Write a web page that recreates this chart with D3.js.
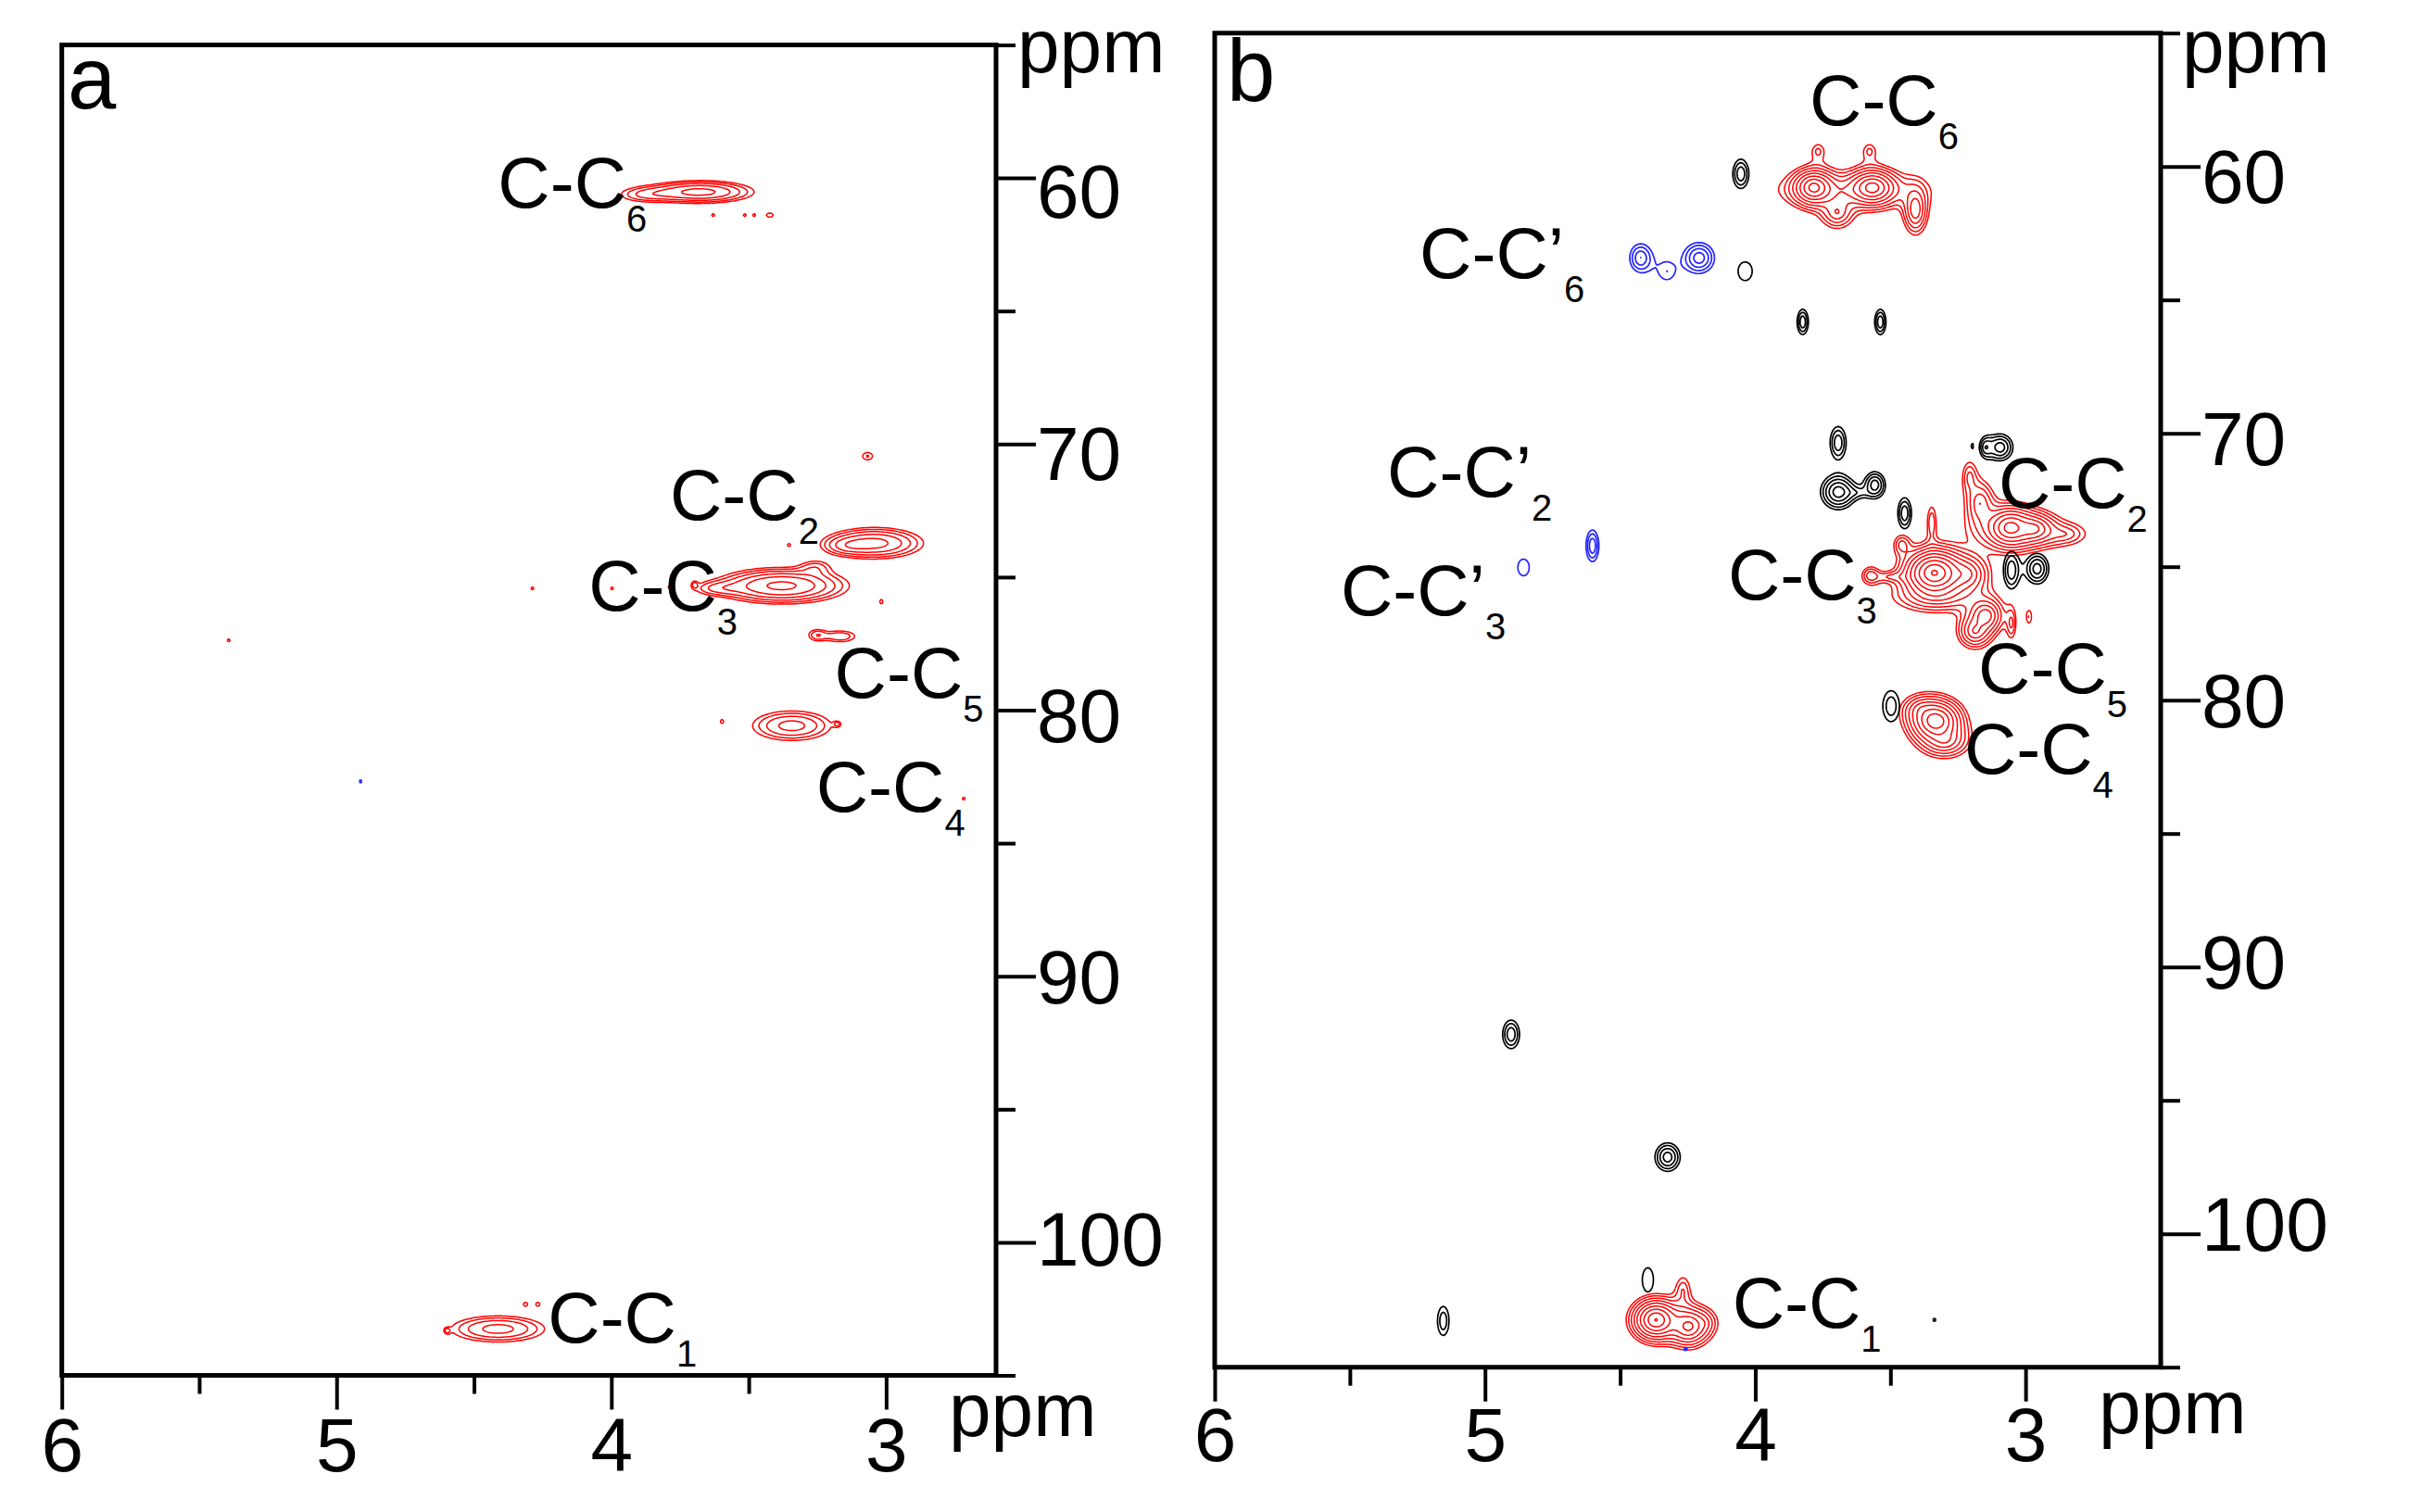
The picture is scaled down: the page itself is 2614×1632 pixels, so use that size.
<!DOCTYPE html>
<html><head><meta charset="utf-8">
<script src="https://cdn.jsdelivr.net/npm/d3@7"></script>
<style>
body{margin:0;background:#fff}
text{font-family:"Liberation Sans",Arial,sans-serif;fill:#000}
</style>
</head><body>
<script>
// ---------- data ----------
const xTicksMajor = [6, 5, 4, 3];
const xTicksMinor = [5.5, 4.5, 3.5];
const yTicksMajor = [60, 70, 80, 90, 100];
const yTicksMinor = [55, 65, 75, 85, 95, 105];
const contourLevels = [1, 1.45, 2.1, 3.05, 4.4, 6.4, 9.3, 13.5, 19.6, 28.4, 41.2];
const panelLetters = ["a", "b"];

// peaks: [1H ppm, 13C ppm, amplitude, width 1H (ppm), width 13C (ppm), class]
const peaksA = [
  [3.68, 60.50, 5.0, 0.110, 0.24, "red"],
  [3.88, 60.60, 1.8, 0.070, 0.20, "red"],
  [3.632, 61.37, 1.25, 0.008, 0.08, "red"],
  [3.517, 61.37, 1.25, 0.008, 0.08, "red"],
  [3.483, 61.37, 1.25, 0.008, 0.08, "red"],
  [3.426, 61.37, 1.40, 0.015, 0.09, "red"],
  [3.07, 70.43, 1.5, 0.020, 0.15, "red"],
  [3.046, 73.70, 5.0, 0.100, 0.33, "red"],
  [3.15, 73.80, 1.6, 0.050, 0.20, "red"],
  [3.356, 73.77, 1.25, 0.008, 0.08, "red"],
  [3.383, 75.30, 7.0, 0.125, 0.35, "red"],
  [3.62, 75.40, 1.6, 0.060, 0.18, "red"],
  [3.26, 74.60, 1.5, 0.040, 0.20, "red"],
  [4.29, 75.40, 1.25, 0.008, 0.08, "red"],
  [4.00, 75.40, 1.25, 0.008, 0.08, "red"],
  [3.79, 75.35, 1.25, 0.008, 0.08, "red"],
  [3.70, 75.25, 1.25, 0.008, 0.10, "red"],
  [3.02, 75.90, 1.25, 0.008, 0.12, "red"],
  [3.255, 77.15, 1.8, 0.025, 0.17, "red"],
  [3.17, 77.20, 2.0, 0.045, 0.17, "red"],
  [5.395, 77.35, 1.25, 0.008, 0.08, "red"],
  [3.346, 80.56, 3.5, 0.090, 0.35, "red"],
  [3.60, 80.40, 1.25, 0.008, 0.10, "red"],
  [3.18, 80.50, 1.25, 0.010, 0.08, "red"],
  [2.72, 83.30, 1.25, 0.008, 0.08, "red"],
  [4.415, 103.23, 3.5, 0.107, 0.31, "red"],
  [4.60, 103.30, 1.25, 0.008, 0.08, "red"],
  [4.315, 102.30, 1.3, 0.010, 0.10, "red"],
  [4.27, 102.30, 1.3, 0.010, 0.10, "red"],
  [4.915, 82.65, 1.3, 0.005, 0.10, "blue"]
];

const peaksB = [
  // red, C6 group
  [3.645, 60.85, 3.0, 0.165, 0.40, "red"],
  [3.786, 60.76, 15, 0.040, 0.35, "red"],
  [3.569, 60.76, 15, 0.045, 0.35, "red"],
  [3.41, 61.60, 6, 0.025, 0.50, "red"],
  [3.70, 61.70, 4, 0.035, 0.35, "red"],
  [3.77, 59.40, 1.6, 0.020, 0.25, "red"],
  [3.58, 59.40, 1.6, 0.020, 0.25, "red"],
  // red, C2 group
  [3.05, 73.60, 2.5, 0.100, 0.45, "red"],
  [3.06, 73.50, 14, 0.045, 0.40, "red"],
  [2.97, 73.55, 8, 0.040, 0.30, "red"],
  [2.86, 73.75, 2.5, 0.050, 0.25, "red"],
  [3.17, 72.60, 4, 0.030, 0.50, "red"],
  [3.21, 71.60, 2.2, 0.018, 0.40, "red"],
  // red, C3 group
  [3.34, 75.20, 30, 0.055, 0.45, "red"],
  [3.22, 75.25, 6, 0.045, 0.40, "red"],
  [3.576, 75.30, 2.5, 0.020, 0.22, "red"],
  [3.46, 74.15, 2.5, 0.020, 0.25, "red"],
  [3.35, 73.30, 2.0, 0.012, 0.45, "red"],
  [3.33, 76.10, 3.0, 0.100, 0.35, "red"],
  [3.50, 75.35, 1.8, 0.040, 0.12, "red"],
  // red, C5 group
  [3.19, 77.40, 6, 0.035, 0.35, "red"],
  [3.15, 76.80, 8, 0.035, 0.35, "red"],
  [3.055, 77.10, 2.2, 0.012, 0.40, "red"],
  [2.99, 76.85, 1.5, 0.010, 0.25, "red"],
  // red, C4 group
  [3.335, 80.75, 18, 0.050, 0.42, "red"],
  [3.30, 81.50, 5, 0.050, 0.35, "red"],
  [3.39, 80.30, 3, 0.040, 0.30, "red"],
  // red, C1 group
  [4.37, 103.20, 20, 0.045, 0.40, "red"],
  [4.25, 103.45, 10, 0.040, 0.40, "red"],
  [4.27, 102.10, 2, 0.020, 0.40, "red"],
  [4.19, 103.30, 2, 0.030, 0.30, "red"],
  // black
  [4.056, 60.25, 3, 0.020, 0.37, "black"],
  [4.04, 63.90, 1.3, 0.036, 0.48, "black"],
  [3.827, 65.80, 3, 0.014, 0.32, "black"],
  [3.54, 65.80, 3, 0.014, 0.32, "black"],
  [3.696, 70.33, 3, 0.020, 0.41, "black"],
  [3.696, 72.17, 5.5, 0.035, 0.36, "black"],
  [3.56, 71.90, 4, 0.023, 0.29, "black"],
  [3.63, 72.20, 1.2, 0.030, 0.12, "black"],
  [3.45, 72.97, 3, 0.017, 0.39, "black"],
  [3.096, 70.50, 4, 0.028, 0.30, "black"],
  [3.15, 70.50, 2.5, 0.015, 0.25, "black"],
  [3.20, 70.45, 1.2, 0.004, 0.15, "black"],
  [3.055, 75.10, 3, 0.020, 0.47, "black"],
  [2.96, 75.05, 4, 0.026, 0.345, "black"],
  [3.50, 80.20, 2, 0.026, 0.49, "black"],
  [4.906, 92.50, 3, 0.021, 0.36, "black"],
  [4.327, 97.10, 4, 0.028, 0.32, "black"],
  [4.40, 101.70, 1.4, 0.025, 0.55, "black"],
  [5.157, 103.24, 2, 0.018, 0.46, "black"],
  [3.34, 103.20, 1.2, 0.008, 0.10, "black"],
  // blue
  [4.427, 63.40, 3, 0.027, 0.35, "blue"],
  [4.33, 63.90, 1.4, 0.030, 0.36, "blue"],
  [4.21, 63.40, 4, 0.034, 0.345, "blue"],
  [4.605, 74.19, 3, 0.016, 0.40, "blue"],
  [4.86, 75.00, 1.3, 0.029, 0.43, "blue"],
  [4.26, 104.30, 1.2, 0.010, 0.08, "blue"]
];

// labels: [main text, subscript, 1H ppm (left edge), 13C ppm (baseline)]
const labelsA = [
  ["C-C", "6", 4.413, 61.10],
  ["C-C", "2", 3.787, 72.83],
  ["C-C", "3", 4.083, 76.24],
  ["C-C", "5", 3.188, 79.52],
  ["C-C", "4", 3.255, 83.80],
  ["C-C", "1", 4.231, 103.78]
];
const labelsB = [
  ["C-C", "6", 3.799, 58.45],
  ["C-C\u2019", "6", 5.242, 64.16],
  ["C-C\u2019", "2", 5.362, 72.37],
  ["C-C\u2019", "3", 5.534, 76.82],
  ["C-C", "3", 4.101, 76.23],
  ["C-C", "2", 3.100, 72.79],
  ["C-C", "5", 3.175, 79.73],
  ["C-C", "4", 3.227, 82.75],
  ["C-C", "1", 4.085, 103.52]
];

// ---------- drawing ----------
const W = 2614, H = 1632;
const svg = d3.select("body").append("svg").attr("width", W).attr("height", H);
const colours = {red: "#ff0000", black: "#000000", blue: "#2323ff"};

const panels = [
  {xd: [6, 2.6], xr: [66.7, 1075], yd: [55, 105], yr: [48.5, 1484.5], shapeQ: 2,
   peaks: peaksA, labels: labelsA, letter: panelLetters[0], letterPos: [73, 117],
   ylab: [42, 25], xlabBase: 103, ppmTop: [1098, 78], ppmBot: [1024, 1550]},
  {xd: [6, 2.5], xr: [1311, 2332], yd: [55, 105], yr: [35.7, 1475.7], shapeQ: 1.5,
   peaks: peaksB, labels: labelsB, letter: panelLetters[1], letterPos: [1324, 109],
   ylab: [39, 18], xlabBase: 101, ppmTop: [2355, 78], ppmBot: [2265, 1547]}
];

panels.forEach(cfg => {
  const x = d3.scaleLinear().domain(cfg.xd).range(cfg.xr);
  const y = d3.scaleLinear().domain(cfg.yd).range(cfg.yr);
  const g = svg.append("g");
  const q = cfg.shapeQ;

  // contours
  const step = 1.5;
  const x0 = cfg.xr[0], y0 = cfg.yr[0];
  const nx = Math.ceil((cfg.xr[1] - x0) / step), ny = Math.ceil((cfg.yr[1] - y0) / step);
  const path = d3.geoPath(d3.geoTransform({
    point(px, py) { this.stream.point(x0 + px * step, y0 + py * step); }
  }));
  Object.keys(colours).forEach(cls => {
    const list = cfg.peaks.filter(p => p[5] === cls);
    if (!list.length) return;
    const vals = new Float64Array(nx * ny);
    list.forEach(p => {
      const A = p[2], lnA = Math.log(A);
      // keep the lowest contour where a Gaussian of the given width would put it
      const k = Math.sqrt(2 * lnA) / Math.pow(q * lnA, 1 / q);
      const cx = (x(p[0]) - x0) / step, cy = (y(p[1]) - y0) / step;
      const sx = k * Math.abs(x(p[0] + p[3]) - x(p[0])) / step;
      const sy = k * Math.abs(y(p[1] + p[4]) - y(p[1])) / step;
      const R = Math.pow(q * Math.log(A / 0.03), 1 / q);
      const i0 = Math.max(0, Math.floor(cx - R * sx)), i1 = Math.min(nx - 1, Math.ceil(cx + R * sx));
      const j0 = Math.max(0, Math.floor(cy - R * sy)), j1 = Math.min(ny - 1, Math.ceil(cy + R * sy));
      for (let j = j0; j <= j1; j++) {
        const dy = (j - cy) / sy;
        for (let i = i0; i <= i1; i++) {
          const dx = (i - cx) / sx;
          const r = Math.sqrt(dx * dx + dy * dy);
          vals[j * nx + i] += A * Math.exp(-Math.pow(r, q) / q);
        }
      }
    });
    const cs = d3.contours().size([nx, ny]).thresholds(contourLevels)(vals);
    g.append("g").selectAll("path").data(cs).join("path")
      .attr("d", path).attr("fill", "none")
      .attr("stroke", colours[cls]).attr("stroke-width", cls === "red" ? 1.5 : 1.7)
      .attr("stroke-linejoin", "round");
  });

  // frame
  g.append("path")
    .attr("d", `M${cfg.xr[0]},${cfg.yr[1]}V${cfg.yr[0]}H${cfg.xr[1]}V${cfg.yr[1]}H${cfg.xr[0]}`)
    .attr("fill", "none").attr("stroke", "#000").attr("stroke-width", 5)
    .attr("stroke-linecap", "square");

  // x axis
  const gxMaj = g.append("g").attr("transform", `translate(0,${cfg.yr[1]})`)
    .call(d3.axisBottom(x).tickValues(xTicksMajor).tickSize(37).tickFormat(d3.format("d")));
  const gxMin = g.append("g").attr("transform", `translate(0,${cfg.yr[1]})`)
    .call(d3.axisBottom(x).tickValues(xTicksMinor).tickSize(20).tickFormat(""));
  // y axis
  const gyMaj = g.append("g").attr("transform", `translate(${cfg.xr[1]},0)`)
    .call(d3.axisRight(y).tickValues(yTicksMajor).tickSize(43).tickPadding(1).tickFormat(d3.format("d")));
  const gyMin = g.append("g").attr("transform", `translate(${cfg.xr[1]},0)`)
    .call(d3.axisRight(y).tickValues(yTicksMinor).tickSize(21).tickFormat(""));
  [gxMaj, gxMin, gyMaj, gyMin].forEach(a => {
    a.select(".domain").remove();
    a.selectAll(".tick line").attr("stroke", "#000").attr("stroke-width", 4);
    a.selectAll("text").attr("font-size", 82).attr("fill", "#000")
      .style("font-family", '"Liberation Sans", Arial, sans-serif');
  });
  gxMaj.selectAll("text").attr("y", cfg.xlabBase).attr("dy", 0);
  const labOff = d3.scaleLinear().domain([60, 100]).range(cfg.ylab);
  gyMaj.selectAll(".tick text").attr("dy", 0).attr("y", d => labOff(d));

  // ppm unit labels
  g.append("text").attr("x", cfg.ppmTop[0]).attr("y", cfg.ppmTop[1]).attr("font-size", 82).text("ppm");
  g.append("text").attr("x", cfg.ppmBot[0]).attr("y", cfg.ppmBot[1]).attr("font-size", 82).text("ppm");

  // panel letter
  g.append("text").attr("x", cfg.letterPos[0]).attr("y", cfg.letterPos[1])
    .attr("font-size", 94).text(cfg.letter);

  // peak labels
  cfg.labels.forEach(l => {
    const t = g.append("text").attr("x", x(l[2])).attr("y", y(l[3])).attr("font-size", 78);
    t.append("tspan").text(l[0]);
    t.append("tspan").attr("font-size", 40).attr("dy", 26).text(l[1]);
  });
});
</script>
</body></html>
